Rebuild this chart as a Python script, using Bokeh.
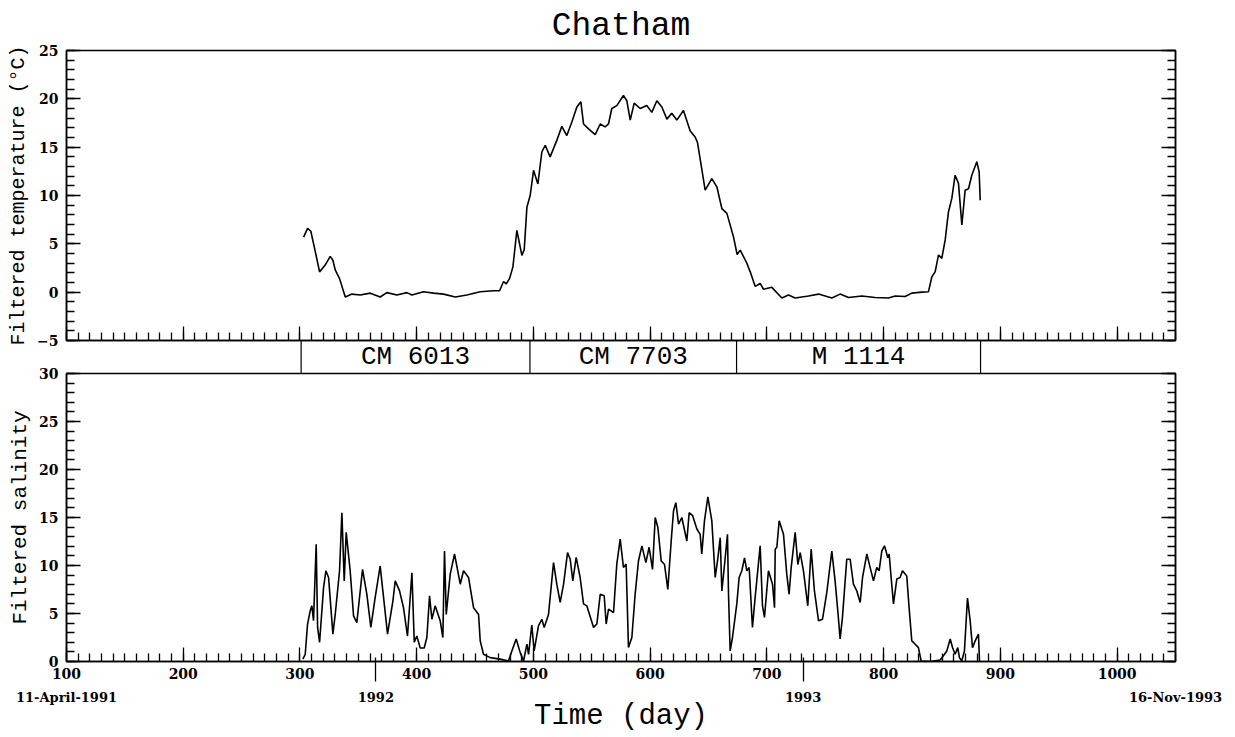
from bokeh.plotting import figure
from bokeh.layouts import column
from bokeh.models import (Range1d, SingleIntervalTicker, FixedTicker, LinearAxis,
                          CustomLabelingPolicy)
from bokeh.embed import file_html
from bokeh.resources import INLINE
from bokeh.core.properties import value

# ---------------- data ----------------
temp_day = [303.1, 306.5, 309.3, 313.1, 316.8, 321.6, 325.9, 328.2, 330.2, 333.9,
            338.8, 344.5, 351.6, 360.2, 368.7, 374.4, 383.0, 391.6, 395.9, 405.8,
            414.4, 423.0, 433.0, 443.0, 454.4, 465.8, 471.0, 474.4, 476.6, 479.5,
            482.4, 485.8, 490.1, 492.1, 494.4, 497.2, 500.1, 503.8, 507.2, 510.1,
            514.3, 520.0, 524.3, 528.6, 532.9, 537.2, 540.6, 542.9, 547.2, 552.9,
            557.2, 561.4, 564.3, 567.1, 571.4, 577.1, 580.0, 582.9, 586.3, 591.4,
            597.1, 601.4, 605.7, 610.0, 614.3, 618.5, 622.8, 628.5, 634.2, 638.5,
            640.5, 647.1, 652.8, 657.1, 661.4, 665.7, 671.4, 674.5, 677.1, 682.8,
            685.7, 689.9, 694.2, 697.1, 704.2, 712.8, 718.5, 724.2, 735.6, 744.2,
            755.6, 762.7, 769.9, 781.3, 792.7, 804.1, 809.9, 818.4, 824.1, 832.7,
            838.4, 841.3, 844.1, 847.0, 849.8, 852.7, 855.5, 858.4, 861.2, 864.1,
            867.0, 869.8, 872.7, 875.5, 879.8, 881.8, 882.7]
temp_val = [5.7, 6.6, 6.3, 4.2, 2.1, 2.8, 3.7, 3.3, 2.3, 1.4,
            -0.5, -0.2, -0.3, -0.1, -0.5, -0.05, -0.3, -0.05, -0.3, 0.05,
            -0.1, -0.2, -0.5, -0.3, 0.05, 0.15, 0.15, 1.1, 0.85, 1.4,
            2.6, 6.4, 3.8, 4.4, 8.8, 10.0, 12.6, 11.2, 14.5, 15.2,
            14.0, 15.7, 17.15, 16.2, 17.6, 19.15, 19.7, 17.4, 16.9, 16.3,
            17.4, 17.1, 17.4, 19.0, 19.3, 20.35, 19.8, 17.8, 19.55, 19.0,
            19.3, 18.6, 19.8, 19.15, 17.9, 18.5, 17.8, 18.8, 16.7, 16.05,
            15.5, 10.55, 11.75, 10.9, 8.65, 8.15, 5.7, 3.9, 4.35, 3.0,
            2.1, 0.6, 0.9, 0.3, 0.5, -0.6, -0.3, -0.6, -0.4, -0.2,
            -0.6, -0.2, -0.55, -0.4, -0.55, -0.6, -0.4, -0.45, -0.1, 0.0,
            0.05, 1.6, 2.1, 3.85, 3.5, 5.4, 8.3, 9.7, 12.1, 11.25,
            6.95, 10.55, 10.7, 12.1, 13.5, 12.45, 9.5]

sal_day = [302.5, 304.5, 306.5, 308.8, 310.2, 311.6, 313.9, 315.1, 316.8, 320.2,
           322.2, 324.5, 328.2, 330.2, 333.9, 335.9, 337.9, 339.6, 343.0, 345.9,
           348.7, 353.6, 357.3, 360.7, 364.4, 368.7, 371.0, 375.0, 379.6, 381.6,
           385.3, 388.7, 392.1, 395.9, 397.9, 400.1, 403.0, 406.4, 408.7, 411.0,
           413.0, 415.8, 420.1, 422.4, 423.8, 425.3, 428.7, 432.4, 437.3, 440.1,
           444.4, 448.7, 453.0, 454.4, 457.2, 462.9, 471.5, 478.6, 481.5, 485.2,
           488.6, 491.5, 494.4, 495.8, 498.6, 500.6, 504.3, 507.2, 509.2, 512.9,
           517.2, 520.0, 522.9, 525.8, 529.2, 531.5, 533.7, 536.6, 540.0, 542.9,
           545.7, 551.5, 554.3, 557.2, 560.6, 562.3, 564.3, 568.6, 571.4, 574.3,
           577.1, 579.4, 581.4, 584.3, 587.1, 590.0, 592.9, 596.3, 599.1, 602.0,
           604.3, 606.6, 609.4, 612.3, 615.1, 618.0, 620.0, 622.0, 624.3, 627.1,
           631.4, 633.4, 636.3, 640.0, 642.8, 644.2, 646.5, 649.4, 652.8, 655.7,
           658.0, 660.0, 661.4, 663.7, 666.2, 667.1, 668.5, 670.5, 674.2, 676.2,
           678.5, 680.8, 682.8, 684.8, 687.6, 689.9, 694.2, 696.2, 697.9, 701.3,
           704.8, 706.5, 707.1, 708.5, 710.5, 714.2, 717.0, 719.0, 720.8, 724.2,
           726.5, 728.5, 731.3, 735.0, 737.9, 740.7, 744.2, 747.6, 751.3, 755.6,
           758.4, 760.7, 762.7, 764.7, 768.4, 771.3, 774.1, 777.0, 779.9, 781.9,
           785.6, 788.4, 791.3, 794.1, 796.1, 798.4, 800.7, 803.6, 804.7, 806.4,
           808.4, 811.3, 814.1, 816.1, 819.8, 821.8, 824.1, 827.0, 829.8, 832.1,
           840.0, 848.4, 852.1, 854.1, 857.0, 859.0, 861.2, 863.5, 864.9, 866.9,
           869.2, 871.8, 874.1, 876.1, 878.4, 881.2, 882.1]
sal_val = [0.25, 0.75, 3.9, 5.3, 5.8, 4.25, 12.2, 3.55, 2.0, 7.7,
           9.45, 8.75, 2.85, 4.9, 9.45, 15.5, 8.4, 13.45, 9.45, 4.75,
           4.05, 9.6, 7.0, 3.55, 6.65, 9.95, 7.35, 2.85, 6.3, 8.4,
           7.35, 5.6, 2.65, 9.25, 2.0, 2.65, 1.4, 1.4, 2.5, 6.85,
           4.4, 5.8, 4.25, 2.5, 11.5, 4.9, 9.1, 11.2, 8.05, 9.45,
           8.75, 5.6, 4.9, 2.15, 0.75, 0.4, 0.25, 0.05, 1.1, 2.35,
           0.95, 0.05, 1.8, 0.75, 3.8, 1.1, 3.7, 4.4, 3.55, 4.9,
           10.3, 8.05, 6.15, 8.05, 11.35, 10.65, 8.4, 10.85, 8.75, 6.0,
           5.8, 3.55, 3.9, 7.0, 6.85, 3.9, 5.45, 5.1, 10.15, 12.75,
           9.8, 10.15, 1.45, 2.5, 7.0, 10.5, 12.05, 10.3, 11.9, 9.6,
           15.0, 13.95, 10.5, 10.1, 7.5, 12.55, 15.7, 16.55, 14.3, 15.0,
           12.55, 15.5, 15.2, 13.8, 13.25, 11.2, 14.65, 17.15, 14.65, 8.75,
           10.8, 12.9, 7.35, 10.1, 13.25, 7.0, 1.1, 2.5, 6.0, 8.75,
           9.45, 10.8, 9.45, 9.8, 3.55, 6.65, 12.05, 5.8, 4.6, 9.45,
           8.05, 5.6, 11.7, 11.9, 14.65, 13.25, 9.1, 7.0, 9.8, 13.45,
           10.1, 11.35, 9.45, 5.8, 11.7, 7.35, 4.25, 4.4, 7.2, 11.5,
           8.4, 5.3, 2.35, 4.6, 10.65, 10.65, 8.05, 7.35, 6.15, 8.75,
           11.2, 9.8, 8.4, 9.8, 9.45, 11.5, 12.05, 10.8, 11.2, 8.75,
           6.0, 8.6, 8.75, 9.45, 8.9, 5.6, 2.15, 1.8, 1.45, 0.05,
           0.0, 0.15, 0.75, 1.1, 2.35, 1.45, 0.75, 1.45, 0.4, 0.05,
           1.1, 6.6, 4.25, 1.45, 2.15, 2.85, 0.05]

deploy_bounds = [301, 497, 674, 883]
deploy_names = ["CM 6013", "CM 7703", "M 1114"]

x_start, x_end = 100, 1050
temp_range = (-5, 25)
sal_range = (0, 30)
year_ticks = [365, 731]
date_ticks = [100, 365, 731, 1050]
date_labels = ["11-April-1991", "1992", "1993", "16-Nov-1993"]

# ---------------- style ----------------
MONO = "Liberation Mono"
SERIF = "DejaVu Serif"
FW = 1109
LB, RB = 66, 48
LW = 1.5
OV = 10          # overlap between stacked canvases (room for half labels)

hide_all = CustomLabelingPolicy(
    code="for (const i of indices) { indices.unset(i) }\nreturn indices")


def style_axis(ax, labels=True):
    ax.axis_line_color = "black"
    ax.axis_line_width = LW
    ax.major_tick_in = 14
    ax.major_tick_out = 0
    ax.minor_tick_in = 8
    ax.minor_tick_out = 0
    ax.major_tick_line_color = "black"
    ax.minor_tick_line_color = "black"
    ax.major_tick_line_width = 1.3
    ax.minor_tick_line_width = 1.3
    ax.major_label_text_font = SERIF
    ax.major_label_text_font_style = "bold"
    ax.major_label_text_font_size = "14px"
    ax.major_label_text_color = "black"
    ax.major_label_standoff = 8
    if not labels:
        ax.major_label_policy = hide_all
        ax.major_label_text_font_size = "1px"
        ax.major_label_standoff = 0


def clear_bg(p):
    p.background_fill_color = None
    p.border_fill_color = None


x_range = Range1d(x_start, x_end)

# ---- top panel: temperature ----
p1 = figure(frame_width=FW, frame_height=290, x_range=x_range,
            y_range=Range1d(*temp_range), output_backend="svg",
            toolbar_location=None, min_border_left=LB, min_border_right=RB,
            min_border_top=42, min_border_bottom=OV, title="Chatham")
p1.title.align = "center"
p1.title.text_font = MONO
p1.title.text_font_size = "33px"
p1.title.text_font_style = "normal"
p1.title.text_color = "black"
p1.title.standoff = 11
p1.grid.visible = False
p1.outline_line_color = "black"
p1.outline_line_width = LW
clear_bg(p1)
bx = p1.below[0]
bx.ticker = SingleIntervalTicker(interval=100, num_minor_ticks=10)
style_axis(bx, labels=False)
ly = p1.left[0]
ly.ticker = SingleIntervalTicker(interval=5, num_minor_ticks=5)
style_axis(ly)
ly.axis_label = "Filtered temperature (°C)"
ly.axis_label_text_font = MONO
ly.axis_label_text_font_style = "normal"
ly.axis_label_text_font_size = "20px"
ly.axis_label_text_color = "black"
ly.axis_label_standoff = 4
ry = LinearAxis(ticker=SingleIntervalTicker(interval=5, num_minor_ticks=5))
style_axis(ry, labels=False)
p1.add_layout(ry, "right")
p1.line(temp_day, temp_val, line_color="black", line_width=1.6)

# ---- middle band: instrument deployments ----
p2 = figure(frame_width=FW, frame_height=33, x_range=x_range,
            y_range=Range1d(0, 1), output_backend="svg", toolbar_location=None,
            min_border_left=LB, min_border_right=RB, min_border_top=0,
            min_border_bottom=0, x_axis_location=None, y_axis_location=None)
p2.margin = (-OV, 0, 0, 0)
p2.grid.visible = False
p2.outline_line_color = None
clear_bg(p2)
p2.segment(x0=deploy_bounds, y0=[0] * len(deploy_bounds), x1=deploy_bounds,
           y1=[1] * len(deploy_bounds), line_color="black", line_width=1.2)
mids = [(a + b) / 2 for a, b in zip(deploy_bounds[:-1], deploy_bounds[1:])]
p2.text(x=mids, y=[0.5] * len(mids), text=deploy_names, text_align="center",
        text_baseline="middle", text_font=value(MONO), text_font_size="26px",
        text_color="black")

# ---- bottom panel: salinity ----
p3 = figure(frame_width=FW, frame_height=288, x_range=x_range,
            y_range=Range1d(*sal_range), output_backend="svg",
            toolbar_location=None, min_border_left=LB, min_border_right=RB,
            min_border_top=OV, min_border_bottom=0)
p3.margin = (-OV, 0, 0, 0)
p3.grid.visible = False
p3.outline_line_color = "black"
p3.outline_line_width = LW
clear_bg(p3)
bx3 = p3.below[0]
bx3.ticker = SingleIntervalTicker(interval=100, num_minor_ticks=10)
style_axis(bx3)
bx3.major_label_standoff = 6
ly3 = p3.left[0]
ly3.ticker = SingleIntervalTicker(interval=5, num_minor_ticks=5)
style_axis(ly3)
ly3.axis_label = "Filtered salinity"
ly3.axis_label_text_font = MONO
ly3.axis_label_text_font_style = "normal"
ly3.axis_label_text_font_size = "21px"
ly3.axis_label_text_color = "black"
ly3.axis_label_standoff = 4
ry3 = LinearAxis(ticker=SingleIntervalTicker(interval=5, num_minor_ticks=5))
style_axis(ry3, labels=False)
p3.add_layout(ry3, "right")

# year marks crossing the time axis
yr = LinearAxis(ticker=FixedTicker(ticks=year_ticks, minor_ticks=[]))
style_axis(yr, labels=False)
yr.axis_line_color = None
yr.major_tick_in = 24
p3.add_layout(yr, "below")

# calendar dates and axis title
dt = LinearAxis(ticker=FixedTicker(ticks=date_ticks, minor_ticks=[]),
                major_label_overrides={t: s for t, s in zip(date_ticks, date_labels)})
style_axis(dt)
dt.axis_line_color = None
dt.major_tick_in = 0
dt.major_tick_line_color = None
dt.major_label_text_font_size = "13px"
dt.major_label_standoff = 4
dt.axis_label = "Time (day)"
dt.axis_label_text_font = MONO
dt.axis_label_text_font_style = "normal"
dt.axis_label_text_font_size = "29px"
dt.axis_label_text_color = "black"
dt.axis_label_standoff = -8
p3.add_layout(dt, "below")

p3.line(sal_day, sal_val, line_color="black", line_width=1.6)

layout = column(p1, p2, p3, spacing=0)
open("out.html", "w").write(file_html(layout, INLINE))
